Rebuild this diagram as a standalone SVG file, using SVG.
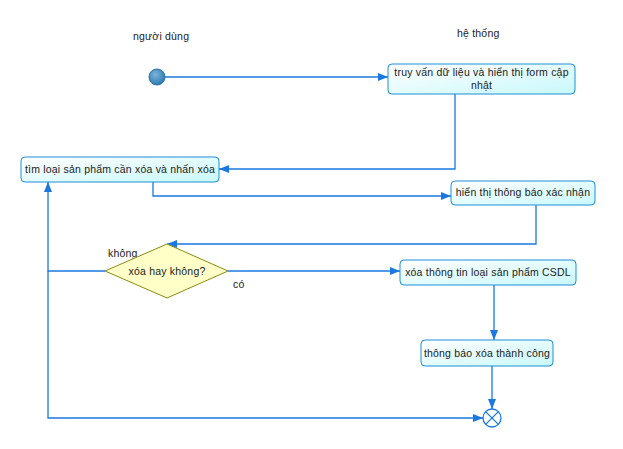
<svg xmlns="http://www.w3.org/2000/svg" width="623" height="449" viewBox="0 0 623 449">
<style>
text{font-family:"Liberation Sans","DejaVu Sans",sans-serif;font-size:10.5px;letter-spacing:0.2px;fill:#1a1a1a}
.box{fill:url(#g);stroke:#1d8fd6;stroke-width:1}
.ln{fill:none;stroke:#1a78e0;stroke-width:1.3}
</style>
<defs>
<linearGradient id="g" x1="0" y1="0" x2="1" y2="1">
<stop offset="0" stop-color="#ffffff"/>
<stop offset="1" stop-color="#c8f8fb"/>
</linearGradient>
<radialGradient id="sg" cx="0.4" cy="0.35" r="0.7">
<stop offset="0" stop-color="#7ab4d8"/>
<stop offset="1" stop-color="#2a78b0"/>
</radialGradient>
<marker id="a" viewBox="0 0 10 8" refX="10" refY="4" markerWidth="10" markerHeight="8" markerUnits="userSpaceOnUse" orient="auto">
<path d="M0,4 L10,0 L10,8 Z" fill="#1a78e0" transform="rotate(180 5 4)"/>
</marker>
</defs>
<g id="lane-labels">
<text x="133" y="40">người dùng</text>
<text x="457" y="37">hệ thống</text>
</g>
<g id="connectors">
<path class="ln" d="M165,77 H388" marker-end="url(#a)"/>
<path class="ln" d="M455,94 V169 H219" marker-end="url(#a)"/>
<path class="ln" d="M153,182 V196 H451" marker-end="url(#a)"/>
<path class="ln" d="M536,205 V244 H167" marker-end="url(#a)"/>
<path class="ln" d="M228,271 H400" marker-end="url(#a)"/>
<path class="ln" d="M105,271 H48 V182" marker-end="url(#a)"/>
<path class="ln" d="M48,271 V418 H483" marker-end="url(#a)"/>
<path class="ln" d="M494,285 V340" marker-end="url(#a)"/>
<path class="ln" d="M492,366 V409" marker-end="url(#a)"/>
<text x="108" y="257">không</text>
<text x="233" y="288">có</text>
</g>
<g id="start">
<circle cx="157" cy="77" r="8" fill="url(#sg)" stroke="#2a70a8" stroke-width="1"/>
</g>
<g id="n1">
<rect class="box" x="388" y="64" width="187" height="30" rx="4"/>
<text x="481.5" y="76" text-anchor="middle">truy vấn dữ liệu và hiển thị form cập</text>
<text x="481.5" y="89" text-anchor="middle">nhật</text>
</g>
<g id="n2">
<rect class="box" x="21" y="157" width="198" height="25" rx="4"/>
<text x="120" y="173" text-anchor="middle">tìm loại sản phẩm cần xóa và nhấn xóa</text>
</g>
<g id="n3">
<rect class="box" x="451" y="181" width="144" height="24" rx="4"/>
<text x="523" y="196" text-anchor="middle">hiển thị thông báo xác nhận</text>
</g>
<g id="decision">
<polygon points="167,244 228,271 167,298 105,271" fill="#ffffc8" stroke="#8a8a10" stroke-width="1"/>
<text x="167" y="275" text-anchor="middle">xóa hay không?</text>
</g>
<g id="n4">
<rect class="box" x="400" y="260" width="176" height="25" rx="4"/>
<text x="488" y="276" text-anchor="middle">xóa thông tin loại sản phẩm CSDL</text>
</g>
<g id="n5">
<rect class="box" x="421" y="340" width="132" height="26" rx="4"/>
<text x="487" y="357" text-anchor="middle">thông báo xóa thành công</text>
</g>
<g id="end">
<circle cx="492" cy="418" r="9" fill="#ffffff" stroke="#1a78e0" stroke-width="1.3"/>
<path d="M485.6,411.6 L498.4,424.4 M498.4,411.6 L485.6,424.4" stroke="#1a78e0" stroke-width="1.3"/>
</g>
</svg>
